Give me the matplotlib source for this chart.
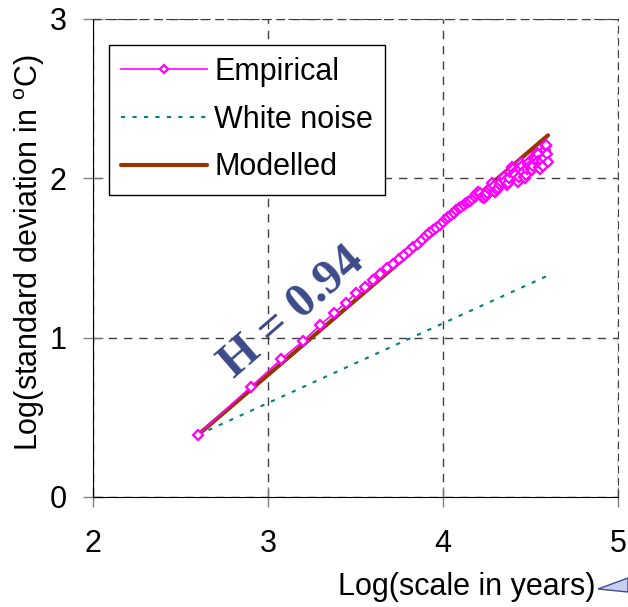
import matplotlib
matplotlib.use("Agg")
import matplotlib.pyplot as plt
from matplotlib.patches import Polygon

plt.rcParams['font.family'] = ['Liberation Sans', 'DejaVu Sans']
plt.rcParams['mathtext.fontset'] = 'custom'
plt.rcParams['mathtext.rm'] = 'Liberation Sans'

# log of scale (years) for the empirical series
emp_x = [2.600, 2.901, 3.077, 3.202, 3.299, 3.378, 3.445, 3.503, 3.554, 3.600,
         3.641, 3.679, 3.714, 3.746, 3.776, 3.804, 3.830, 3.855, 3.879, 3.901,
         3.922, 3.942, 3.962, 3.980, 3.998, 4.015, 4.031, 4.047, 4.062, 4.077,
         4.091, 4.105, 4.119, 4.131, 4.144, 4.156, 4.168, 4.180, 4.191, 4.202,
         4.213, 4.223, 4.233, 4.243, 4.253, 4.263, 4.272, 4.281, 4.290, 4.299,
         4.308, 4.316, 4.324, 4.332, 4.340, 4.348, 4.356, 4.363, 4.371, 4.378,
         4.385, 4.392, 4.399, 4.406, 4.413, 4.420, 4.426, 4.433, 4.439, 4.445,
         4.451, 4.457, 4.463, 4.469, 4.475, 4.481, 4.486, 4.492, 4.498, 4.503,
         4.508, 4.514, 4.519, 4.524, 4.529, 4.535, 4.540, 4.544, 4.549, 4.554,
         4.559, 4.564, 4.568, 4.573, 4.578, 4.582, 4.587, 4.591, 4.596, 4.600]
emp_y = [0.39, 0.69, 0.866, 0.98, 1.08, 1.155, 1.22, 1.28, 1.32, 1.365,
         1.40, 1.435, 1.465, 1.495, 1.52, 1.545, 1.57, 1.59, 1.615, 1.635,
         1.655, 1.675, 1.69, 1.71, 1.725, 1.745, 1.755, 1.77, 1.785, 1.80,
         1.815, 1.82, 1.835, 1.845, 1.85, 1.86, 1.87, 1.88, 1.90, 1.915,
         1.905, 1.88, 1.875, 1.89, 1.91, 1.93, 1.945, 1.97, 1.95, 1.915,
         1.925, 1.94, 1.96, 1.98, 1.995, 2.01, 1.985, 1.96, 1.97, 2.00,
         2.04, 2.07, 2.06, 2.035, 2.02, 1.99, 1.975, 2.01, 2.06, 2.095,
         2.08, 2.04, 2.01, 2.00, 2.02, 2.06, 2.09, 2.10, 2.08, 2.06,
         2.05, 2.08, 2.12, 2.14, 2.13, 2.16, 2.15, 2.11, 2.07, 2.06,
         2.09, 2.12, 2.11, 2.08, 2.13, 2.18, 2.20, 2.21, 2.15, 2.10]

wn_x = [2.6, 4.6]
wn_y = [0.39, 1.39]

mod_x = [2.6, 4.6]
mod_y = [0.39, 2.27]

fig = plt.figure(figsize=(6.28, 6.07), dpi=100)
ax = fig.add_axes([93/628, 1-497/607, 525/628, 478/607])

ax.plot(mod_x, mod_y, color='#993300', lw=3, solid_capstyle='round',
        label='Modelled', zorder=3)
ax.plot(emp_x, emp_y, color='#FF00FF', lw=1.2, marker='D', ms=5.5,
        mfc='white', mec='#FF00FF', mew=1.6, label='Empirical', zorder=4)
ax.plot(wn_x, wn_y, color='#008080', lw=1.5, ls=(0, (2, 3.5)),
        label='White noise', zorder=2)

ax.set_xlim(2, 5)
ax.set_ylim(0, 3)
ax.set_xticks([2, 3, 4, 5])
ax.set_yticks([0, 1, 2, 3])
ax.grid(True, color='#404040', ls=(0, (6, 5)), lw=1)
ax.tick_params(direction='inout', length=14, width=1, color='#808080',
               labelsize=22)
ax.tick_params(axis='x', pad=16)
ax.tick_params(axis='y', pad=12)
for s in ['top', 'right']:
    ax.spines[s].set_linestyle((0, (6, 5)))
    ax.spines[s].set_color('#404040')

ax.set_ylabel('Log(standard deviation in $^{\\mathrm{o}}$C)', fontsize=22)
ax.yaxis.set_label_coords((47-93)/525, 0.51)
ax.set_xlabel('Log(scale in years)', fontsize=22)
ax.xaxis.set_label_coords((595-93)/525, (497-587)/478)
ax.xaxis.label.set_ha('right')
ax.xaxis.label.set_va('center')

ax.text(3.14, 1.16, 'H = 0.94', fontsize=35, fontweight='bold',
        family='Liberation Serif', color='#3D4A8A', rotation=41,
        ha='center', va='center', rotation_mode='anchor')

h, l = ax.get_legend_handles_labels()
order = [1, 2, 0]
leg = ax.legend([h[i] for i in order], [l[i] for i in order],
                loc='upper left', bbox_to_anchor=(0.03, 0.946),
                borderaxespad=0, fontsize=22, frameon=True, fancybox=False,
                edgecolor='black', handlelength=2.8, handletextpad=0.25,
                labelspacing=0.58, borderpad=0.4, markerscale=0.8)
leg.get_frame().set_linewidth(1)
leg.get_frame().set_alpha(1)

tri = Polygon([[598/628, 1-589/607], [1.0, 1-578/607], [1.0, 1-592/607]],
              closed=True, transform=fig.transFigure, facecolor='#C8D0F0',
              edgecolor='#404A90', lw=1, clip_on=False)
fig.patches.append(tri)

fig.savefig('out.png', dpi=100)
